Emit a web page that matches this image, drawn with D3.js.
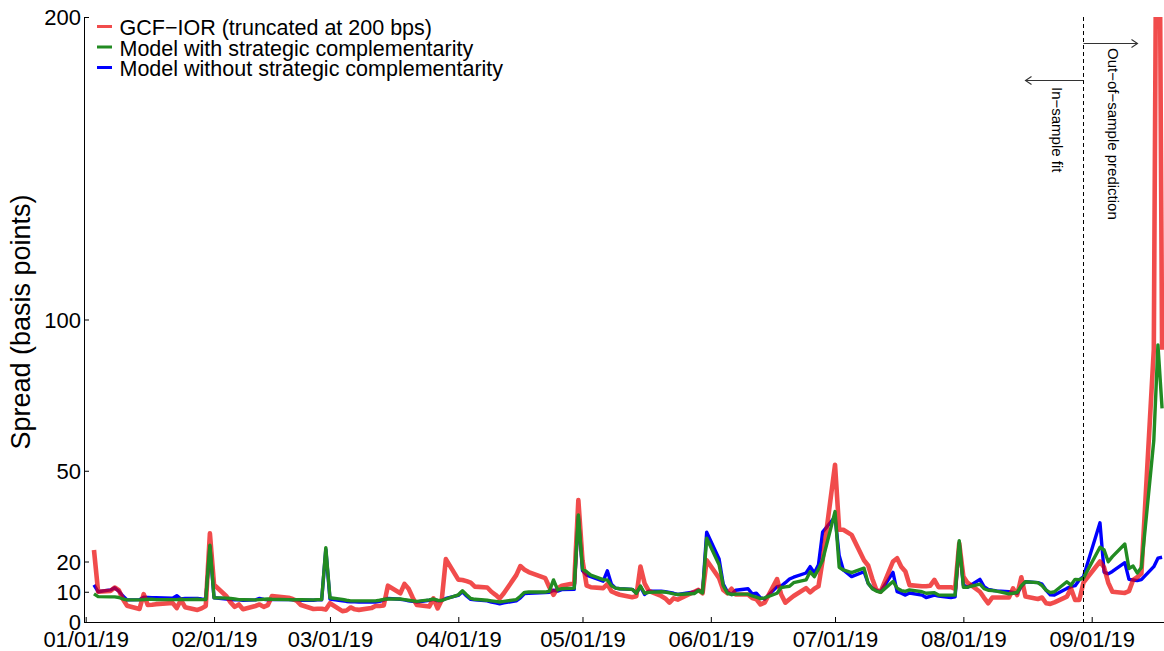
<!DOCTYPE html>
<html>
<head>
<meta charset="utf-8">
<script src="https://cdn.jsdelivr.net/npm/d3@7"></script>
<style>
  body { margin: 0; background: #fff; }
  svg { display: block; font-family: "Liberation Sans", Arial, Helvetica, sans-serif; }
</style>
</head>
<body>
<svg id="chart" width="1164" height="651"></svg>
<script>
// Trading days in 2019 (MM-DD), one line per month
const tradingDays = [
  "01-03","01-04","01-07","01-08","01-09","01-10","01-11","01-14","01-15","01-16","01-17","01-18","01-22","01-23","01-24","01-25","01-28","01-29","01-30","01-31",
  "02-01","02-04","02-05","02-06","02-07","02-08","02-11","02-12","02-13","02-14","02-15","02-19","02-20","02-21","02-22","02-25","02-26","02-27","02-28",
  "03-01","03-04","03-05","03-06","03-07","03-08","03-11","03-12","03-13","03-14","03-15","03-18","03-19","03-20","03-21","03-22","03-25","03-26","03-27","03-28","03-29",
  "04-01","04-02","04-03","04-04","04-05","04-08","04-09","04-10","04-11","04-12","04-15","04-16","04-17","04-18","04-22","04-23","04-24","04-25","04-26","04-29","04-30",
  "05-01","05-02","05-03","05-06","05-07","05-08","05-09","05-10","05-13","05-14","05-15","05-16","05-17","05-20","05-21","05-22","05-23","05-24","05-28","05-29","05-30","05-31",
  "06-03","06-04","06-05","06-06","06-07","06-10","06-11","06-12","06-13","06-14","06-17","06-18","06-19","06-20","06-21","06-24","06-25","06-26","06-27","06-28",
  "07-01","07-02","07-03","07-05","07-08","07-09","07-10","07-11","07-12","07-15","07-16","07-17","07-18","07-19","07-22","07-23","07-24","07-25","07-26","07-29","07-30","07-31",
  "08-01","08-02","08-05","08-06","08-07","08-08","08-09","08-12","08-13","08-14","08-15","08-16","08-19","08-20","08-21","08-22","08-23","08-26","08-27","08-28","08-29","08-30",
  "09-03","09-04","09-05","09-06","09-09","09-10","09-11","09-12","09-13","09-16","09-17","09-18"
];

// GCF-IOR spread (bps), axis truncated at 200
const gcfIor = [
  23.8,10.0,10.3,11.4,10.5,7.5,5.4,4.3,9.2,5.6,5.7,5.9,6.3,4.6,7.3,4.9,4.0,4.5,5.3,29.3,
  12.3,8.5,6.5,5.0,5.8,4.2,5.3,5.8,5.0,5.6,8.6,8.0,7.6,7.0,5.6,4.3,4.4,4.4,4.1,
  6.2,3.6,3.8,4.8,4.2,4.0,4.6,5.3,5.3,5.5,12.0,9.5,12.6,11.0,8.0,5.6,5.1,7.8,4.5,7.3,20.8,
  14.0,13.9,13.5,13.0,11.7,11.4,10.0,9.0,7.8,9.5,15.5,18.5,17.3,16.5,14.5,11.5,9.0,11.2,12.0,12.8,40.3,
  20.4,12.0,11.5,11.2,12.5,10.1,9.5,9.0,8.2,8.5,18.3,12.8,10.3,8.6,7.8,6.4,7.8,7.4,10.0,10.6,9.5,20.4,
  14.5,10.6,9.5,11.0,9.1,9.1,7.9,7.5,5.8,6.4,14.2,9.1,6.4,7.5,8.6,11.2,9.8,11.0,11.8,20.4,
  52.0,30.5,30.5,28.8,20.4,18.7,14.3,10.6,10.0,20.0,21.1,18.3,16.7,12.2,11.8,11.8,12.0,13.9,11.5,11.5,11.0,26.0,
  15.0,13.0,10.0,8.0,6.2,8.1,8.1,8.1,11.1,8.9,14.8,8.4,7.6,8.1,6.2,6.0,6.5,8.4,11.1,7.3,7.3,13.0,
  20.0,18.0,13.0,10.0,9.6,10.2,13.9,14.8,16.0,90,330,90
];

// Model with strategic complementarity
const modelWith = [
  9.3,8.4,8.3,8.3,8.1,7.6,7.3,7.3,7.4,7.5,7.5,7.4,7.4,7.4,7.5,7.4,7.5,7.4,7.4,25.4,
  8.0,7.9,7.8,7.6,7.4,7.4,7.3,7.4,7.5,7.6,7.5,7.4,7.3,7.4,7.4,7.3,7.4,7.4,24.6,
  8.0,7.5,7.2,7.0,7.0,7.0,7.0,7.0,7.2,7.5,7.6,7.6,7.4,7.2,7.0,6.8,7.3,7.6,7.2,7.1,7.6,
  9.0,10.3,9.0,7.8,7.5,7.2,7.0,6.8,6.6,6.8,7.4,8.5,9.8,9.9,9.9,10.2,13.9,10.6,11.0,11.2,35.4,
  17.5,16.6,15.5,14.0,13.9,12.0,11.2,11.0,10.8,9.5,11.9,9.5,9.8,10.0,9.9,9.6,9.3,9.1,9.4,10.4,9.6,27.7,
  18.9,12.0,9.5,9.1,9.2,9.2,8.6,8.2,7.7,8.0,9.5,11.4,11.6,11.8,13.0,13.9,16.6,15.0,17.5,20.4,
  36.5,18.1,17.2,16.3,17.8,12.8,11.0,10.2,9.8,13.4,11.2,10.4,10.1,10.6,10.0,9.5,9.6,9.7,8.9,8.9,8.9,26.9,
  11.5,11.5,12.5,11.0,10.5,10.4,10.2,9.3,9.5,9.8,12.0,13.3,13.0,12.0,10.5,9.7,10.0,13.3,12.2,14.1,14.0,14.5,
  24.7,23.8,19.9,21.6,25.8,17.7,18.5,16.2,18.0,60.0,91.6,70.6
];

// Model without strategic complementarity
const modelWithout = [
  12.3,10.0,10.6,11.3,10.2,8.6,7.3,7.4,8.2,8.1,8.0,8.0,7.9,8.7,7.6,7.8,7.8,7.6,7.5,25.0,
  8.0,7.6,7.4,7.3,7.3,7.2,7.3,7.8,7.5,7.3,7.4,7.4,7.3,7.3,7.2,7.2,7.3,7.3,24.0,
  7.6,7.0,6.8,6.7,6.7,6.6,6.6,6.6,6.8,7.2,7.8,7.5,7.3,7.0,6.8,6.6,7.2,7.5,7.0,7.1,7.8,
  8.8,10.0,8.6,7.5,7.3,7.0,6.6,6.3,6.0,6.3,7.0,8.0,9.4,9.5,9.7,9.8,10.5,10.2,10.7,10.8,35.0,
  17.0,15.5,15.0,13.5,16.9,12.5,11.2,11.0,10.8,9.5,11.7,9.1,10.2,10.2,10.0,9.8,9.5,9.1,9.9,10.6,9.8,29.7,
  20.8,12.5,10.0,9.1,10.5,11.0,9.3,9.5,8.0,7.6,11.7,11.9,13.0,14.2,14.8,16.2,18.3,16.2,18.9,29.7,
  34.8,22.0,17.2,15.0,16.6,12.8,11.2,10.5,10.0,16.4,10.0,9.5,8.9,9.6,8.9,8.1,8.5,8.9,8.6,8.1,8.3,26.0,
  12.2,11.5,14.1,11.7,10.8,10.5,10.3,10.0,9.8,9.5,11.7,13.3,13.0,12.5,10.5,9.0,8.9,11.1,11.7,12.0,13.9,15.0,
  32.8,16.5,15.9,16.7,19.6,14.1,13.9,13.7,14.0,18.3,21.1,21.4
];

const monthTicks = ["2019-01-01","2019-02-01","2019-03-01","2019-04-01","2019-05-01","2019-06-01","2019-07-01","2019-08-01","2019-09-01"];
const yTicks = [0, 10, 20, 50, 100, 200];
const lastInSample = "2019-08-30";

const legendLabels = [
  "GCF\u2212IOR (truncated at 200 bps)",
  "Model with strategic complementarity",
  "Model without strategic complementarity"
];

const parse = d3.utcParse("%Y-%m-%d");
const days = tradingDays.map(d => parse("2019-" + d));

const svg = d3.select("#chart");

// x: calendar time, axis line runs to the right edge
const x0 = d3.scaleUtc().domain([parse("2019-01-01"), parse("2019-09-01")]).range([85.7, 1091.7]);
const x = d3.scaleUtc().domain([x0.invert(84), x0.invert(1164)]).range([84, 1164]);
const y = d3.scaleLinear().domain([0, 200]).range([622, 17]);

svg.append("defs").append("clipPath").attr("id", "plot")
  .append("rect").attr("x", 84).attr("y", 17).attr("width", 1080).attr("height", 605);

// axes
const xAxis = svg.append("g").attr("transform", "translate(0,622)")
  .call(d3.axisBottom(x).tickValues(monthTicks.map(parse))
    .tickFormat(d3.utcFormat("%m/%d/%y")).tickSizeInner(-5).tickSizeOuter(0));
xAxis.selectAll("text").attr("y", 25).attr("dy", null)
  .style("font-size", "22px").attr("fill", "#000");

const yAxis = svg.append("g").attr("transform", "translate(84,0)")
  .call(d3.axisLeft(y).tickValues(yTicks).tickSizeInner(-5).tickSizeOuter(0).tickPadding(3));
yAxis.selectAll("text").attr("dy", "0.36em")
  .style("font-size", "22px").attr("fill", "#000");

svg.selectAll(".domain, .tick line").attr("stroke", "#000");
svg.selectAll(".tick").attr("font-family", null);

svg.append("text")
  .attr("transform", "translate(30,322) rotate(-90)")
  .attr("text-anchor", "middle")
  .style("font-size", "27px")
  .text("Spread (basis points)");

// lines
const line = d3.line().x((d, i) => x(days[i])).y(d => y(d));
const plot = svg.append("g").attr("clip-path", "url(#plot)");

const series = [
  { values: modelWithout, color: "#0000ff", width: 3.4, opacity: 1 },
  { values: gcfIor, color: "#eb0000", width: 4.6, opacity: 0.7 },
  { values: modelWith, color: "#228b22", width: 3.4, opacity: 1 }
];
series.forEach(s => {
  plot.append("path")
    .attr("d", line(s.values))
    .attr("fill", "none")
    .attr("stroke", s.color)
    .attr("stroke-width", s.width)
    .attr("stroke-opacity", s.opacity)
    .attr("stroke-linejoin", "round");
});

// in-sample / out-of-sample split
const xs = Math.round(x(parse(lastInSample))) + 0.5;
svg.append("line")
  .attr("x1", xs).attr("x2", xs).attr("y1", 17).attr("y2", 622)
  .attr("stroke", "#000").attr("stroke-width", 1).attr("stroke-dasharray", "4,3");

function arrow(x1, x2, yy) {
  const dir = Math.sign(x2 - x1);
  svg.append("path")
    .attr("d", `M${x1},${yy}H${x2}M${x2 - dir * 6},${yy - 4}L${x2},${yy}L${x2 - dir * 6},${yy + 4}`)
    .attr("fill", "none").attr("stroke", "#333").attr("stroke-width", 1.1);
}
arrow(xs, xs + 54, 43.5);
arrow(xs, xs - 58, 80.5);

svg.append("text")
  .attr("transform", `translate(${xs + 24},48) rotate(90)`)
  .style("font-size", "15px")
  .text("Out\u2212of\u2212sample prediction");
svg.append("text")
  .attr("transform", `translate(${xs - 32},87) rotate(90)`)
  .style("font-size", "15px")
  .text("In\u2212sample fit");

// legend
const legendColors = ["#eb0000", "#228b22", "#0000ff"];
const legendOpacity = [0.7, 1, 1];
legendLabels.forEach((label, i) => {
  const base = 35 + i * 20.5;
  svg.append("line")
    .attr("x1", 97).attr("x2", 112).attr("y1", base - 8.5).attr("y2", base - 8.5)
    .attr("stroke", legendColors[i]).attr("stroke-opacity", legendOpacity[i]).attr("stroke-width", 3);
  svg.append("text")
    .attr("x", 119.5).attr("y", base)
    .style("font-size", "21.5px")
    .text(label);
});
</script>
</body>
</html>
